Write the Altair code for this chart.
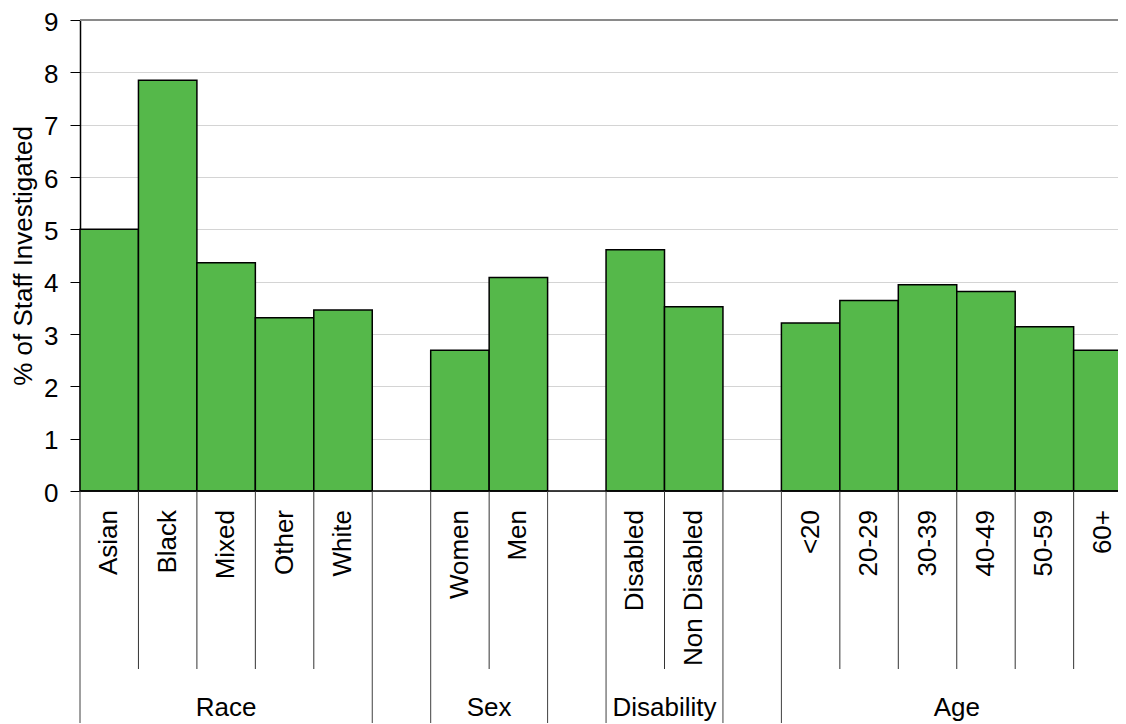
import altair as alt
import pandas as pd

# % of staff investigated
race = ["Asian", "Black", "Mixed", "Other", "White"]
race_pct = [5.0, 7.85, 4.36, 3.31, 3.46]

sex = ["Women", "Men"]
sex_pct = [2.69, 4.08]

disability = ["Disabled", "Non Disabled"]
disability_pct = [4.61, 3.52]

age = ["<20", "20-29", "30-39", "40-49", "50-59", "60+"]
age_pct = [3.21, 3.64, 3.94, 3.81, 3.14, 2.69]

groups = ["Race", "Sex", "Disability", "Age"]
y_ticks = list(range(10))

FONT = "Liberation Sans"
FS = 26

# one slot per category, an empty slot between groups (excel style)
rows, grp_rows, edges = [], [], []
slot = 0
for g, cats, vals in zip(groups, [race, sex, disability, age],
                         [race_pct, sex_pct, disability_pct, age_pct]):
    start = slot
    for i, (c, v) in enumerate(zip(cats, vals)):
        rows.append({"group": g, "cat": c, "pct": v, "x0": slot, "x1": slot + 1,
                     "mid": slot + 0.5, "first": i == 0})
        slot += 1
    grp_rows.append({"group": g, "mid": (start + slot) / 2})
    edges += [{"x": start}, {"x": slot}]
    slot += 1
n_slots = slot - 1

df = pd.DataFrame(rows)
gdf = pd.DataFrame(grp_rows)
edf = pd.DataFrame(edges)
inner = df[~df["first"]]

# the last bar runs past the window edge in the reference, so the scale
# range is wider than the visible plot
W = 1038
H = 471
xs = alt.Scale(domain=[0, n_slots], range=[0, 58.45 * n_slots], nice=False, zero=False)
ys = alt.Scale(domain=[0, 9], nice=False)

bars = alt.Chart(df).mark_bar(color="#55B84A", stroke="black", strokeWidth=1.5).encode(
    x=alt.X("x0:Q", scale=xs, axis=None),
    x2="x1:Q",
    y=alt.Y("pct:Q", scale=ys, axis=alt.Axis(
        values=y_ticks, title="% of Staff Investigated",
        titleFont=FONT, titleFontSize=FS, titleFontWeight="normal", titleColor="black",
        titleAngle=270, titleX=-49, titleY=H / 2, titleAlign="center", titleBaseline="alphabetic",
        labelFont=FONT, labelFontSize=FS, labelColor="black", labelPadding=12, labelFlush=False,
        labelOffset=2,
        tickSize=10, tickColor="black", tickWidth=1,
        domainColor="black", domainWidth=1.5,
        grid=True, gridColor="#d4d4d4", gridWidth=1)),
    y2=alt.datum(0),
)

top_line = alt.Chart(pd.DataFrame({"v": [9]})).mark_rule(color="#8a8a8a", strokeWidth=2).encode(
    y=alt.Y("v:Q", scale=ys))
base_line = alt.Chart(pd.DataFrame({"v": [0]})).mark_rule(color="black", strokeWidth=1.5).encode(
    y=alt.Y("v:Q", scale=ys))

cat_labels = alt.Chart(df).mark_text(angle=270, align="right", baseline="middle",
                                     font=FONT, fontSize=FS, color="black").encode(
    x=alt.X("mid:Q", scale=xs), y=alt.value(H + 19), text="cat:N")

short_sep = alt.Chart(inner).mark_rule(color="#333333", strokeWidth=1).encode(
    x=alt.X("x0:Q", scale=xs), y=alt.value(H), y2=alt.value(H + 178))

long_sep = alt.Chart(edf).mark_rule(color="#404040", strokeWidth=1).encode(
    x=alt.X("x:Q", scale=xs), y=alt.value(H), y2=alt.value(H + 300))

grp_labels = alt.Chart(gdf).mark_text(baseline="alphabetic", font=FONT, fontSize=FS,
                                      color="black").encode(
    x=alt.X("mid:Q", scale=xs), y=alt.value(H + 225), text="group:N")

chart = alt.layer(top_line, bars, base_line, cat_labels, short_sep, long_sep, grp_labels).properties(
    width=W, height=H,
    padding={"left": 72, "top": 12, "right": 0, "bottom": 232},
    autosize=alt.AutoSizeParams(type="none"),
).configure_view(stroke=None)

chart.save("out.html", embed_options={"renderer": "svg", "actions": False})
